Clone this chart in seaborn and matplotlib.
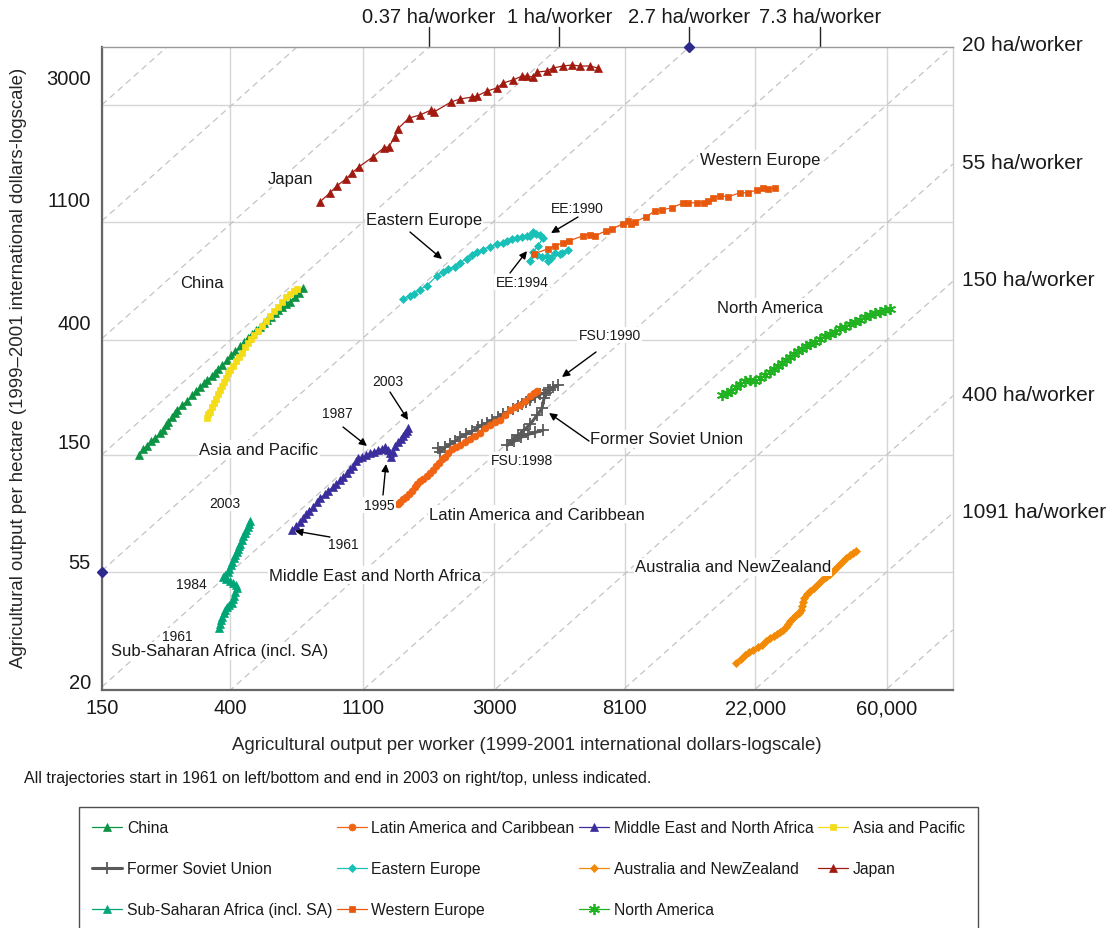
import numpy as np
import pandas as pd
import matplotlib
matplotlib.use('Agg')
import matplotlib.pyplot as plt
import matplotlib.transforms as mtransforms
from matplotlib.ticker import NullLocator
import seaborn as sns

# Values: output per worker (x) and per hectare (y),
# 1999-2001 international dollars, one point per year 1961-2003
china_x = [199, 205, 212, 218, 225, 234, 239, 245, 248, 256, 262, 266, 276, 287, 298, 308, 317, 327, 334, 347, 356, 364,
           375, 390, 402, 414, 431, 444, 457, 472, 486, 501, 517, 529, 546, 562, 575, 593, 611, 630, 655, 675, 696]
china_y = [150, 157, 162, 168, 173, 180, 185, 193, 198, 207, 214, 219, 229, 237, 249, 258, 267, 276, 284, 293, 301, 312,
           322, 337, 351, 364, 379, 393, 409, 423, 438, 449, 465, 477, 489, 506, 519, 533, 547, 556, 581, 601, 627]

asia_x = [334, 337, 342, 347, 353, 358, 364, 369, 375, 381, 387, 393, 399, 408, 418, 427, 437, 447, 457, 468, 479, 494,
          509, 525, 541, 558, 575, 593, 611, 630, 650, 665]
asia_y = [205, 212, 217, 225, 233, 241, 252, 260, 269, 279, 288, 301, 309, 320, 334, 345, 357, 376, 389, 405, 419, 434,
          453, 473, 493, 515, 533, 556, 581, 596, 611, 622]

mena_x = [640, 660, 681, 696, 712, 729, 752, 774, 793, 824, 843, 875, 896, 922, 945, 974, 997, 1020, 1043, 1060, 1092,
          1125, 1160, 1196, 1233, 1271, 1301, 1331, 1352, 1362, 1383, 1404, 1436, 1469, 1492, 1515, 1539, 1551]
mena_y = [78.7, 81.4, 84.2, 87.1, 90.2, 92.6, 95.8, 100, 103.4, 107, 110, 113.7, 116.6, 120.7, 124, 128, 132.6, 136,
          142, 145.7, 147, 149, 151.6, 154, 155.6, 158, 159.6, 155.6, 151.6, 146.5, 153, 161, 166.6, 171, 175.4, 180,
          183, 187.9]

ssa_x = [366, 369, 372, 375, 380, 383, 389, 395, 405, 408, 411, 414, 420, 417, 408, 398, 386, 378, 383, 392, 395, 401,
         405, 411, 414, 420, 424, 427, 430, 437, 440, 447, 450, 457, 461, 465]
ssa_y = [34.0, 35.2, 36.3, 37.3, 38.6, 39.6, 40.6, 41.3, 42.1, 43.5, 44.7, 46.3, 47.8, 49.1, 49.9, 50.8, 51.7, 52.6,
         53.5, 54.9, 56.3, 58.3, 59.8, 61.9, 63.5, 65.1, 66.8, 68.5, 69.7, 72.2, 74.7, 76.7, 78.7, 80.7, 82.8, 84.9]

latam_x = [1436, 1458, 1492, 1527, 1562, 1599, 1636, 1660, 1699, 1738, 1793, 1834, 1877, 1920, 1964, 2009, 2055, 2103,
           2169, 2237, 2305, 2394, 2489, 2585, 2686, 2790, 2900, 3013, 3131, 3251, 3378, 3510, 3646, 3787, 3935, 4059,
           4152]
latam_y = [98.3, 99.9, 102.6, 104.3, 107, 109.8, 113.7, 116.6, 119.7, 121.7, 124.9, 128.2, 131.5, 136, 139.6, 144.5,
           147, 151.7, 157, 159.6, 162.4, 166.6, 171, 175.4, 180, 187.9, 192.7, 197.8, 201, 210, 219, 225, 228.8,
           236.8, 247, 253.6, 258]

fsu_x = [1949, 1979, 2055, 2136, 2219, 2305, 2413, 2526, 2645, 2727, 2833, 2944, 3082, 3203, 3326, 3456, 3591, 3703,
         3817, 3935, 4089, 4249, 4381, 4514, 4691, 4875, 4586, 4447, 4381, 4313, 4152, 3935, 3760, 3591, 3432, 3302,
         3483, 3676, 3878, 4089, 4348]
fsu_y = [158.3, 153, 159.6, 163.8, 168, 174, 178.4, 183.1, 189.5, 192.7, 196.1, 201.2, 206.5, 212, 215.5, 221, 226.9,
         230.7, 234.8, 238.9, 245, 251.7, 253.6, 260.1, 266.9, 271.5, 260.1, 253.6, 243, 223, 210, 194.4, 184.8, 176.9,
         169.5, 162.4, 168, 174, 178.4, 181.5, 184.8]

ee_x = [1492, 1575, 1623, 1699, 1793, 1935, 2025, 2103, 2219, 2305, 2432, 2526, 2626, 2748, 2900, 3059, 3203, 3302,
        3432, 3564, 3703, 3848, 3935, 4028, 4119, 4249, 4348, 4185, 4028, 3935, 4152, 4313, 4480, 4514, 4619, 4764,
        4947, 5026, 5261]
ee_y = [571, 586, 596, 617, 638, 695, 719, 738, 751, 777, 803, 832, 854, 869, 891, 912, 920, 936, 952, 960, 969, 977,
        977, 1011, 994, 985, 960, 897, 852, 789, 830, 816, 823, 789, 809, 844, 837, 844, 866]

we_x = [4059, 4514, 4764, 5062, 5300, 5899, 6222, 6463, 7029, 7361, 8006, 8315, 8509, 8771, 9541, 10221, 10778, 11638,
        12654, 13145, 14079, 14848, 15323, 15913, 16781, 17838, 19549, 20778, 22260, 23306, 24219, 25532]
we_y = [837, 874, 897, 920, 936, 977, 985, 977, 1020, 1037, 1083, 1111, 1083, 1101, 1150, 1210, 1221, 1242, 1296, 1296,
        1296, 1296, 1318, 1353, 1376, 1365, 1412, 1412, 1449, 1474, 1461, 1474]

japan_x = [792, 855, 902, 967, 1012, 1068, 1187, 1291, 1341, 1404, 1436, 1562, 1699, 1848, 1890, 2153, 2305, 2527,
           2625, 2833, 3059, 3203, 3456, 3703, 3848, 4028, 4152, 4480, 4691, 5062, 5423, 5764, 6222, 6614]
japan_y = [1307, 1412, 1500, 1592, 1676, 1765, 1922, 2076, 2097, 2283, 2444, 2678, 2749, 2867, 2820, 3072, 3152, 3206,
           3232, 3375, 3464, 3615, 3710, 3838, 3838, 3805, 3971, 4007, 4111, 4182, 4218, 4182, 4182, 4111]

namerica_x = [17035, 17699, 18255, 18960, 19549, 20311, 21106, 21924, 22772, 23662, 24575, 25354, 26133, 26935, 27780,
              28649, 29517, 30430, 31387, 32366, 33345, 34659, 36017, 37397, 38866, 40357, 41938, 43585, 45277, 47036,
              48861, 50753, 52757, 54782, 56919, 59145, 61407]
namerica_y = [249, 254, 258, 267, 274, 281, 284, 281, 288, 298, 304, 312, 320, 328, 337, 345, 354, 363, 370, 379, 386,
              393, 405, 416, 423, 430, 442, 449, 461, 469, 477, 489, 498, 506, 511, 519, 524]

anz_x = [18965, 19695, 20311, 20942, 21597, 22430, 23128, 23840, 24575, 25354, 25933, 26534, 27157, 27780, 28203, 28649,
         29294, 29984, 30674, 31164, 31387, 31631, 31854, 32611, 33345, 34392, 35460, 36551, 37708, 38866, 40068,
         41292, 42583, 43919, 45277, 46301, 47392]
anz_y = [25.2, 26.1, 27.0, 27.7, 28.2, 28.9, 29.4, 30.4, 31.2, 31.8, 32.3, 32.9, 33.4, 34.3, 35.2, 36.1, 37.1, 38.0,
         38.7, 39.7, 41.1, 42.5, 44.0, 45.5, 46.7, 47.9, 49.6, 51.3, 52.7, 54.0, 55.9, 57.9, 59.9, 62.0, 63.6, 64.7,
         65.8]

# stray marker points sitting on the axes in the original
aux_x = [150, 13290]
aux_y = [55, 4920]

x_ticks = [150, 400, 1100, 3000, 8100, 22000, 60000]
x_tick_labels = ['150', '400', '1100', '3000', '8100', '22,000', '60,000']
y_ticks = [20, 55, 150, 400, 1100, 3000]
y_tick_labels = ['20', '55', '150', '400', '1100', '3000']
top_ha = [0.37, 1, 2.7, 7.3]
right_ha = [20, 55, 150, 400, 1091]
diag_ha = [0.05, 0.135, 0.37, 1, 2.7, 7.3, 20, 55, 150, 400, 1091, 2970]
x_lim = (150, 99400)
y_lim = (20, 4920)

# name: (x, y, color, marker, markersize, linewidth) -- in legend order (column-major, 4 columns)
series = {
    'China': (china_x, china_y, '#0c9444', '^', 5.5, 0.9),
    'Former Soviet Union': (fsu_x, fsu_y, '#5a5a5a', '+', 8, 2.2),
    'Sub-Saharan Africa (incl. SA)': (ssa_x, ssa_y, '#00a577', '^', 5.5, 0.9),
    'Latin America and Caribbean': (latam_x, latam_y, '#f06414', 'o', 5, 0.9),
    'Eastern Europe': (ee_x, ee_y, '#19c0b8', 'D', 4.5, 0.9),
    'Western Europe': (we_x, we_y, '#e8580c', 's', 5, 0.9),
    'Middle East and North Africa': (mena_x, mena_y, '#3a2d9c', '^', 5.5, 0.9),
    'Australia and NewZealand': (anz_x, anz_y, '#f28a05', 'D', 4.5, 0.9),
    'North America': (namerica_x, namerica_y, '#21b221', (6, 2, 0), 8, 0.9),
    'Asia and Pacific': (asia_x, asia_y, '#f5dc18', 's', 5, 0.9),
    'Japan': (japan_x, japan_y, '#a11a10', '^', 5.5, 0.9),
}

sns.set_theme(style='white')
plt.rcParams['font.family'] = ['Liberation Sans', 'DejaVu Sans']
plt.rcParams['text.color'] = '#1a1a1a'

fig = plt.figure(figsize=(11.17, 9.29), dpi=100)
ax = fig.add_axes([0.0913, 0.2562, 0.7619, 0.6921])

for name, (xs, ys, col, mk, ms, lw) in series.items():
    df = pd.DataFrame({'worker': xs, 'hectare': ys})
    sns.lineplot(data=df, x='worker', y='hectare', sort=False, estimator=None, ax=ax,
                 color=col, lw=lw, marker=mk, markersize=ms, markeredgecolor=col,
                 markeredgewidth=1.3 if mk in ('+', (6, 2, 0)) else 0.5,
                 label=name, zorder=3)

ax.set_xscale('log')
ax.set_yscale('log')
ax.set_xlim(*x_lim)
ax.set_ylim(*y_lim)

# iso land-per-worker diagonals
xs_line = np.array(x_lim)
for h in diag_ha:
    ax.plot(xs_line, xs_line / h, color='#c4c4c4', lw=0.9, dashes=(5, 3.5), zorder=1)

ax.plot(aux_x, aux_y, ls='none', marker='D', ms=5, color='#2e2a8c', clip_on=False, zorder=5)

ax.set_xticks(x_ticks)
ax.set_xticklabels(x_tick_labels)
ax.set_yticks(y_ticks)
ax.set_yticklabels(y_tick_labels)
ax.xaxis.set_minor_locator(NullLocator())
ax.yaxis.set_minor_locator(NullLocator())
ax.tick_params(axis='both', labelsize=14.5, length=2, color='#555555', labelcolor='#1a1a1a')
ax.tick_params(axis='x', pad=4)
ax.tick_params(axis='y', pad=6)
ax.grid(True, color='#d6d6d6', lw=1, zorder=0)
ax.set_axisbelow(True)

# y tick labels sit a little above their grid lines in the original
for lab, off in zip(ax.get_yticklabels(), [9, 11, 14, 19, 23, 28]):
    lab.set_transform(lab.get_transform() + mtransforms.ScaledTranslation(0, off / 100, fig.dpi_scale_trans))

for side in ['left', 'bottom']:
    ax.spines[side].set_color('#666666')
    ax.spines[side].set_linewidth(1.6)
ax.spines['top'].set_color('#9a9a9a')
ax.spines['top'].set_linewidth(1.0)
ax.spines['right'].set_color('#cfcfcf')
ax.spines['right'].set_linewidth(1.0)

ax.set_xlabel('Agricultural output per worker (1999-2001 international dollars-logscale)', fontsize=13.4)
ax.set_ylabel('Agricultural output per hectare (1999\u20132001 international dollars-logscale)', fontsize=13.4)
ax.xaxis.set_label_coords(0.4994, -0.0715)
ax.yaxis.set_label_coords(-0.0881, 0.5023)

# top ha/worker ticks
top_tr = mtransforms.blended_transform_factory(ax.transData, ax.transAxes)
for h in top_ha:
    xv = h * y_lim[1]
    ax.plot([xv, xv], [1.0, 1.031], color='#222222', lw=1, transform=top_tr, clip_on=False)
    ax.text(xv, 1.047, f'{h:g} ha/worker', transform=top_tr, ha='center', va='center', fontsize=14.5)

# right ha/worker labels where the diagonals meet the right edge
right_tr = mtransforms.blended_transform_factory(ax.transAxes, ax.transData)
for h in right_ha:
    ax.annotate(f'{h:g} ha/worker', xy=(1.0106, x_lim[1] / h), xycoords=right_tr,
                xytext=(0, 1), textcoords='offset points', ha='left', va='center',
                fontsize=15, annotation_clip=False)

# region names and year notes (axes-fraction positions)
box = dict(facecolor='white', edgecolor='none', pad=1)
big_labels = [
    ('Japan', 0.2221, 0.7963), ('Western Europe', 0.7732, 0.8258), ('Eastern Europe', 0.3784, 0.7325),
    ('China', 0.1175, 0.633), ('North America', 0.785, 0.5956), ('Former Soviet Union', 0.6639, 0.3904),
    ('Asia and Pacific', 0.1845, 0.3748), ('Latin America and Caribbean', 0.5112, 0.2737),
    ('Middle East and North Africa', 0.3208, 0.1788), ('Australia and NewZealand', 0.7415, 0.1913),
    ('Sub-Saharan Africa (incl. SA)', 0.1387, 0.0607),
]
for txt, fx, fy in big_labels:
    ax.text(fx, fy, txt, transform=ax.transAxes, ha='center', va='center', fontsize=12, bbox=box, zorder=4)

small_labels = [
    ('EE:1990', 0.5582, 0.7496), ('EE:1994', 0.4935, 0.6345), ('FSU:1990', 0.5969, 0.5521),
    ('FSU:1998', 0.4935, 0.3577), ('2003', 0.3361, 0.4806), ('1987', 0.2761, 0.4308), ('1995', 0.3255, 0.2877),
    ('1961', 0.2832, 0.2271), ('2003', 0.1445, 0.2908), ('1984', 0.1046, 0.1649), ('1961', 0.0881, 0.084),
]
for txt, fx, fy in small_labels:
    ax.text(fx, fy, txt, transform=ax.transAxes, ha='center', va='center', fontsize=10, bbox=box, zorder=4)

arrows = [
    ((0.3619, 0.7123), (0.3995, 0.6703)), ((0.5593, 0.7356), (0.5276, 0.7107)),
    ((0.4794, 0.6485), (0.4994, 0.6827)), ((0.5805, 0.5257), (0.5405, 0.4868)),
    ((0.5723, 0.3872), (0.5253, 0.4308)), ((0.3384, 0.4635), (0.3596, 0.4199)),
    ((0.2832, 0.409), (0.3114, 0.3795)), ((0.3302, 0.3033), (0.3337, 0.3515)),
    ((0.2679, 0.2379), (0.2268, 0.2473)),
]
for tail, head in arrows:
    ax.annotate('', xy=head, xytext=tail, xycoords='axes fraction', textcoords='axes fraction',
                arrowprops=dict(arrowstyle='-|>', color='black', lw=1, mutation_scale=11,
                                shrinkA=0, shrinkB=0), zorder=6)

fig.text(0.0215, 0.1615, 'All trajectories start in 1961 on left/bottom and end in 2003 on right/top, unless indicated.',
         fontsize=11.5, va='center', ha='left')

handles, labels = ax.get_legend_handles_labels()
if ax.get_legend() is not None:
    ax.get_legend().remove()
leg = fig.legend(handles, labels, loc='upper left', bbox_to_anchor=(79 / 1117, 1 - 808 / 929), ncol=4,
                 fontsize=11.3, handlelength=1.9, handletextpad=0.3, columnspacing=0.3, labelspacing=1.65,
                 borderpad=0.85, borderaxespad=0, fancybox=False, frameon=True, edgecolor='#222222')
leg.get_frame().set_linewidth(1.0)

fig.savefig('out.png', dpi=100)
